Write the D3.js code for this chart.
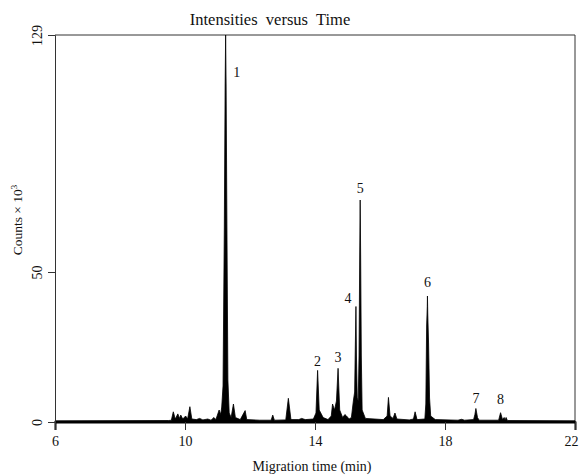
<!DOCTYPE html>
<html><head><meta charset="utf-8">
<script src="https://cdn.jsdelivr.net/npm/d3@7"></script>
<style>body{margin:0;background:#fff}svg{display:block}text{font-family:"Liberation Serif","Times New Roman",serif;fill:#111}</style>
</head><body><svg id="c" width="580" height="476"></svg>
<script>
// Migration time (min) and intensity (counts x 10^3)
const traceTime = [6,9.5,9.58,9.64,9.7,9.78,9.83,9.87,9.93,10.02,10.08,10.15,10.21,10.35,10.45,10.55,10.7,10.8,10.89,10.95,11.05,11.1,11.13,11.17,11.21,11.235,11.25,11.265,11.29,11.32,11.36,11.42,11.49,11.55,11.7,11.85,11.9,12.3,12.65,12.7,12.75,13.1,13.18,13.26,13.5,13.59,13.7,13.95,14.03,14.08,14.13,14.25,14.4,14.5,14.54,14.6,14.66,14.71,14.76,14.85,14.92,14.97,15.05,15.12,15.18,15.22,15.24,15.26,15.275,15.3,15.33,15.355,15.375,15.39,15.405,15.425,15.45,15.55,16.1,16.22,16.26,16.31,16.4,16.46,16.52,16.9,17.03,17.08,17.14,17.38,17.41,17.435,17.455,17.46,17.47,17.495,17.525,17.56,17.7,18.4,18.51,18.6,18.88,18.92,18.95,19.0,19.05,19.65,19.71,19.77,19.82,19.85,19.88,19.92,22];
const traceValue = [0.4,0.5,0.6,3.4,1.0,2.7,1.2,2.3,1.0,2.0,1.0,5.1,1.0,0.8,1.2,0.7,1.0,0.6,1.5,0.8,4.0,2.5,5.0,12,65,112,129,112,65,14,3,1.5,6,1.5,0.8,3.8,0.8,0.6,0.6,2.3,0.6,0.7,7.9,0.8,0.8,1.2,0.8,1.0,3,17.2,4,1.5,0.8,2,6,4,7,17.9,4,1.5,2.5,2,1.0,1.5,7,10,25,38.5,22,8,7,22,55,74,55,22,4,1.2,0.8,2,8.2,2,1.2,3,1,0.7,1,3.4,0.8,1,6,32,38.5,42,36,26,8,2,0.8,0.6,0.9,0.6,0.8,2.5,4.5,1.5,0.6,0.6,3.1,0.8,1.5,0.7,1.5,0.5,0.4];
// Peak labels
const peakLabels = ["1","2","3","4","5","6","7","8"];
const peakTimes = [11.25,14.08,14.71,15.26,15.39,17.46,18.95,19.71];
const labelLevels = [116.7,20.3,21.7,41.3,78,46.7,8,7.7];
const labelShift = [11,0,0,-8,0,0,0,0];
// Axes
const xTicks = [6,10,14,18,22];
const yTicks = [0,50,129];
const title = "Intensities  versus  Time";
const xTitle = "Migration time (min)";

const svg = d3.select("#c");
const x = d3.scaleLinear().domain([6,22]).range([55,575]);
const y = d3.scaleLinear().domain([0,129]).range([422,35]);
const data = traceTime.map((t,i)=>[t,traceValue[i]]);

// frame (top and right)
svg.append("path").attr("d",`M${x(6)},${y(129)}H${x(22)}V${y(0)}`)
  .attr("fill","none").attr("stroke","#333").attr("stroke-width",1);

// trace
svg.append("path").datum(data)
  .attr("d",d3.area().x(d=>x(d[0])).y0(y(0)).y1(d=>y(d[1])))
  .attr("fill","#000").attr("stroke","#000").attr("stroke-width",0.8).attr("stroke-linejoin","miter");

// x axis
const xa = svg.append("g").attr("transform",`translate(0,${y(0)})`)
  .call(d3.axisBottom(x).tickValues(xTicks).tickSize(8).tickPadding(6).tickFormat(d3.format("d")));
xa.select(".domain").attr("stroke","#000").attr("stroke-width",2);
xa.selectAll(".tick line").attr("stroke","#333");
xa.selectAll("text").style("font-size","14px").attr("fill","#111").style("font-family","'Liberation Serif',serif")
  .attr("dx",d=>d===22?-4:0);

// y axis
const ya = svg.append("g").attr("transform",`translate(${x(6)},0)`)
  .call(d3.axisLeft(y).tickValues(yTicks).tickSize(7).tickFormat(d3.format("d")));
ya.select(".domain").attr("stroke","#333").attr("stroke-width",1);
ya.selectAll(".tick line").attr("stroke","#333");
ya.selectAll(".tick text").attr("x",null).attr("dy",null)
  .attr("transform","translate(-13,0) rotate(-90)").attr("text-anchor","middle")
  .style("font-size","14px").attr("fill","#111").style("font-family","'Liberation Serif',serif");

// titles
svg.append("text").attr("x",270).attr("y",25).attr("text-anchor","middle")
  .style("font-size","16.5px").style("white-space","pre").text(title);
svg.append("text").attr("x",312).attr("y",471).attr("text-anchor","middle")
  .style("font-size","14px").text(xTitle);
const yl = svg.append("text").attr("transform","translate(22,220) rotate(-90)").attr("text-anchor","middle")
  .style("font-size","13.5px");
yl.append("tspan").text("Counts \u00d7 10");
yl.append("tspan").attr("dy",-5).style("font-size","9px").text("3");

// peak labels
svg.selectAll(".pl").data(peakLabels).enter().append("text").attr("class","pl")
  .attr("x",(d,i)=>x(peakTimes[i])+labelShift[i]).attr("y",(d,i)=>y(labelLevels[i]))
  .attr("dy","0.35em").attr("text-anchor","middle").style("font-size","14px").text(d=>d);
</script></body></html>
